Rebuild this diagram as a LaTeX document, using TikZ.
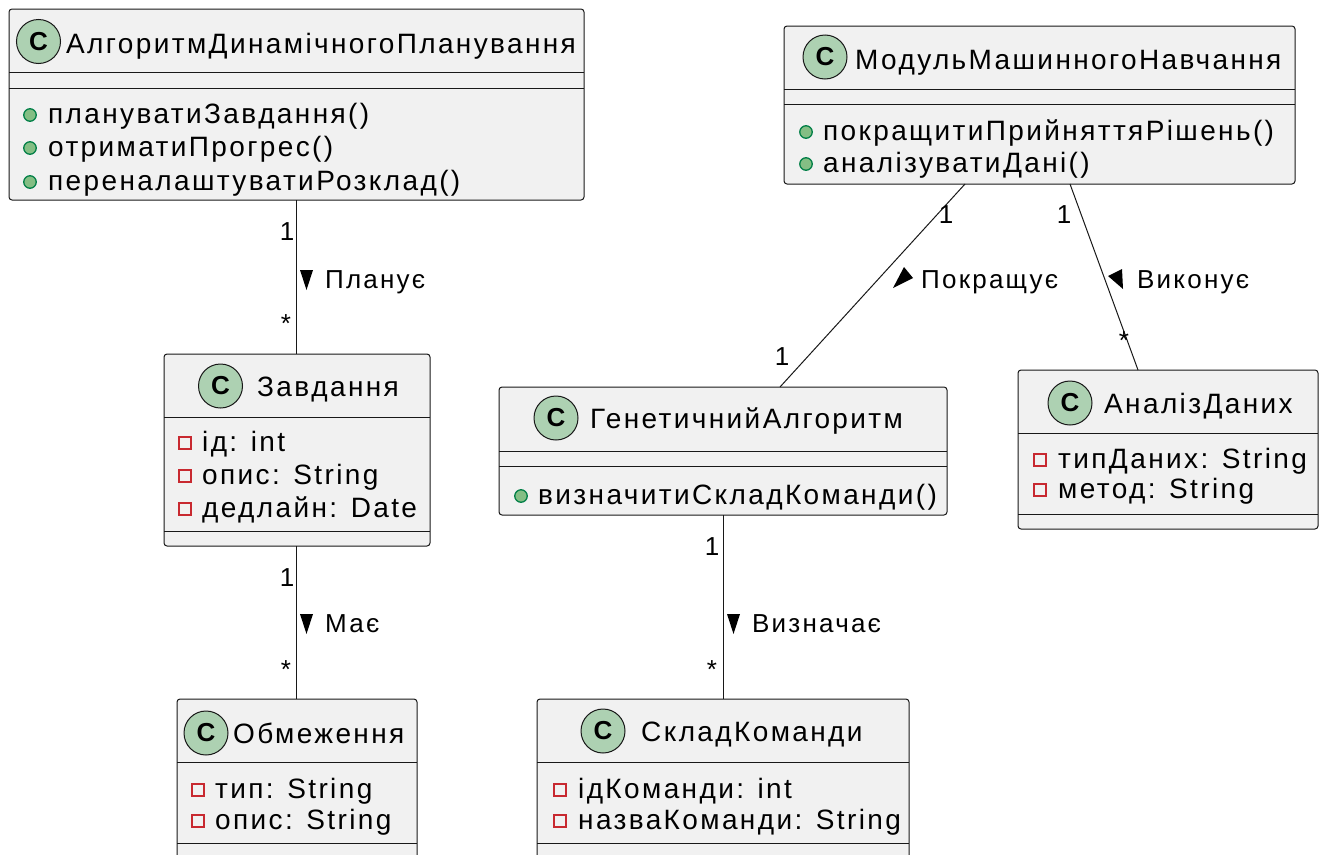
\documentclass[tikz,border=0pt]{standalone}
\usepackage{fontspec}
\setmainfont{Liberation Sans}[LetterSpace=8.5]
\newfontfamily\iconfont{Liberation Sans}
\definecolor{boxfill}{HTML}{F1F1F1}
\definecolor{boxline}{HTML}{181818}
\definecolor{iconfill}{HTML}{ADD1B2}
\definecolor{pubfill}{HTML}{84BE84}
\definecolor{publine}{HTML}{038048}
\definecolor{privline}{HTML}{C82930}
\tikzset{
  classbox/.style={draw=boxline, fill=boxfill, rounded corners=3pt, line width=1pt,
    anchor=north west, inner sep=0pt, outer sep=0pt},
  sepline/.style={draw=boxline, line width=1pt},
  classicon/.style={circle, draw=boxline, fill=iconfill, line width=1pt,
    minimum size=44pt, inner sep=0pt, font=\iconfont\bfseries\fontsize{26}{26}\selectfont},
  cname/.style={anchor=base west, inner sep=0pt, font=\fontsize{28}{33}\selectfont},
  member/.style={anchor=base west, inner sep=0pt, font=\fontsize{28}{33}\selectfont},
  pubmark/.style={circle, draw=publine, fill=pubfill, line width=1.3pt, minimum size=12.5pt, inner sep=0pt},
  privmark/.style={rectangle, draw=privline, line width=1.5pt, minimum size=12pt, inner sep=0pt},
  assoc/.style={draw=boxline, line width=1pt},
  mult/.style={anchor=base, inner sep=0pt, font=\fontsize{26}{30}\selectfont},
  rlabel/.style={anchor=base west, inner sep=0pt, font=\fontsize{26}{30}\selectfont},
  tri/.style={fill=black}
}
\begin{document}
\begin{tikzpicture}[x=1pt,y=-1pt]
\useasboundingbox (0,0) rectangle (1324,854);
\clip (0,0) rectangle (1324,854);

% --- АлгоритмДинамічногоПланування
\node[classbox, minimum width=575pt, minimum height=191pt] (A) at (9,9) {};
\node[classicon] (Ai) at (38.5,41.5) {C};
\node[cname] (An) at (66,53) {АлгоритмДинамічногоПланування};
\draw[sepline] (A.west |- 0,72) -- (A.east |- 0,72);
\draw[sepline] (A.west |- 0,88) -- (A.east |- 0,88);
\node[pubmark] (Am1) at (30,115) {};
\node[member] (At1) at (48,123) {плануватиЗавдання()};
\node[pubmark] (Am2) at (30,148) {};
\node[member] (At2) at (48,156) {отриматиПрогрес()};
\node[pubmark] (Am3) at (30,182) {};
\node[member] (At3) at (48,190) {переналаштуватиРозклад()};

% --- Завдання
\node[classbox, minimum width=266pt, minimum height=192pt] (Z) at (164,354) {};
\node[classicon] (Zi) at (220.5,386) {C};
\node[cname] (Zn) at (257,396) {Завдання};
\draw[sepline] (Z.west |- 0,417) -- (Z.east |- 0,417);
\node[privmark] (Zm1) at (185,443) {};
\node[member] (Zt1) at (202,451) {ід: int};
\node[privmark] (Zm2) at (185,476) {};
\node[member] (Zt2) at (202,484) {опис: String};
\node[privmark] (Zm3) at (185,509) {};
\node[member] (Zt3) at (202,517) {дедлайн: Date};
\draw[sepline] (Z.west |- 0,531) -- (Z.east |- 0,531);

% --- Обмеження
\node[classbox, minimum width=240pt, minimum height=170pt] (O) at (177,699) {};
\node[classicon] (Oi) at (206,733) {C};
\node[cname] (On) at (233,743) {Обмеження};
\draw[sepline] (O.west |- 0,762) -- (O.east |- 0,762);
\node[privmark] (Om1) at (198,790) {};
\node[member] (Ot1) at (215,798) {тип: String};
\node[privmark] (Om2) at (198,821) {};
\node[member] (Ot2) at (215,829) {опис: String};
\draw[sepline] (O.west |- 0,843) -- (O.east |- 0,843);

% --- МодульМашинногоНавчання
\node[classbox, minimum width=511pt, minimum height=158pt] (M) at (784,26) {};
\node[classicon] (Mi) at (825,57) {C};
\node[cname] (Mn) at (855,69) {МодульМашинногоНавчання};
\draw[sepline] (M.west |- 0,89) -- (M.east |- 0,89);
\draw[sepline] (M.west |- 0,104) -- (M.east |- 0,104);
\node[pubmark] (Mm1) at (806,132) {};
\node[member] (Mt1) at (823,140) {покращитиПрийняттяРішень()};
\node[pubmark] (Mm2) at (806,164) {};
\node[member] (Mt2) at (823,172) {аналізуватиДані()};

% --- ГенетичнийАлгоритм
\node[classbox, minimum width=448pt, minimum height=128pt] (G) at (499,387) {};
\node[classicon] (Gi) at (556,418) {C};
\node[cname] (Gn) at (590,428) {ГенетичнийАлгоритм};
\draw[sepline] (G.west |- 0,451) -- (G.east |- 0,451);
\draw[sepline] (G.west |- 0,466) -- (G.east |- 0,466);
\node[pubmark] (Gm1) at (521,496) {};
\node[member] (Gt1) at (538,504) {визначитиСкладКоманди()};

% --- АналізДаних
\node[classbox, minimum width=300pt, minimum height=159pt] (D) at (1018,370) {};
\node[classicon] (Di) at (1070,403) {C};
\node[cname] (Dn) at (1104,413) {АналізДаних};
\draw[sepline] (D.west |- 0,433) -- (D.east |- 0,433);
\node[privmark] (Dm1) at (1040,460) {};
\node[member] (Dt1) at (1058,468) {типДаних: String};
\node[privmark] (Dm2) at (1040,490) {};
\node[member] (Dt2) at (1058,498) {метод: String};
\draw[sepline] (D.west |- 0,514) -- (D.east |- 0,514);

% --- СкладКоманди
\node[classbox, minimum width=372pt, minimum height=170pt] (S) at (537,699) {};
\node[classicon] (Si) at (603,731) {C};
\node[cname] (Sn) at (641,741) {СкладКоманди};
\draw[sepline] (S.west |- 0,762) -- (S.east |- 0,762);
\node[privmark] (Sm1) at (560,790) {};
\node[member] (St1) at (578,798) {ідКоманди: int};
\node[privmark] (Sm2) at (560,821) {};
\node[member] (St2) at (578,829) {назваКоманди: String};
\draw[sepline] (S.west |- 0,843) -- (S.east |- 0,843);

% --- associations
\draw[assoc] (A.south -| 296,0) -- (Z.north -| 296,0);
\node[mult] (mA1) at (287,240) {1};
\node[mult] (mA2) at (286,332) {*};
\fill[tri] (300,270) -- (313,270) -- (306.5,290) -- cycle;
\node[rlabel] (lA) at (325,288) {Планує};

\draw[assoc] (Z.south -| 296,0) -- (O.north -| 296,0);
\node[mult] (mZ1) at (287,586) {1};
\node[mult] (mZ2) at (286,678) {*};
\fill[tri] (300,614) -- (313,614) -- (306.5,634) -- cycle;
\node[rlabel] (lZ) at (325,632) {Має};

\draw[assoc] ([xshift=-74.5pt]M.south) -- ([xshift=57pt]G.north);
\node[mult] (mM1) at (946,223) {1};
\node[mult] (mM2) at (782,365) {1};
\fill[tri] (893,288) -- (904,267) -- (913,278) -- cycle;
\node[rlabel] (lM) at (921,288) {Покращує};

\draw[assoc] ([xshift=30.5pt]M.south) -- ([xshift=-30pt]D.north);
\node[mult] (mD1) at (1064,223) {1};
\node[mult] (mD2) at (1124,349) {*};
\fill[tri] (1108,276) -- (1122,269) -- (1123,289) -- cycle;
\node[rlabel] (lD) at (1137,288) {Виконує};

\draw[assoc] (G.south) -- (S.north);
\node[mult] (mG1) at (712,555) {1};
\node[mult] (mG2) at (712,678) {*};
\fill[tri] (727,614) -- (740,614) -- (733.5,634) -- cycle;
\node[rlabel] (lG) at (752,632) {Визначає};
\end{tikzpicture}
\end{document}
